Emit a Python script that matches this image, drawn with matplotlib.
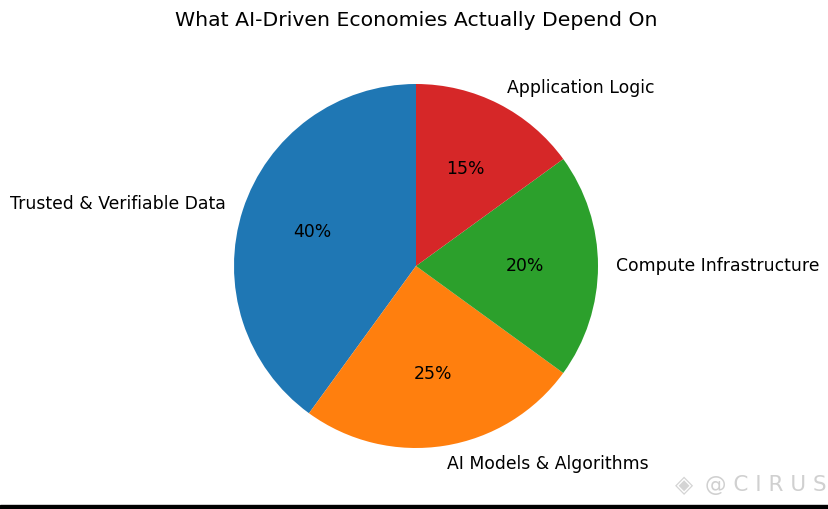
import matplotlib.pyplot as plt
from matplotlib.patches import Rectangle

labels = ['Trusted & Verifiable Data', 'AI Models & Algorithms',
          'Compute Infrastructure', 'Application Logic']
shares = [40, 25, 20, 15]
colors = ['#1f77b4', '#ff7f0e', '#2ca02c', '#d62728']

fig = plt.figure(figsize=(8.29, 5.09), dpi=100)
W, H = 829, 509
cx, cy, r = 416, 266, 182
ax = fig.add_axes([(cx - r) / W, (H - cy - r) / H, 2 * r / W, 2 * r / H])

ax.pie(shares, labels=labels, colors=colors, autopct='%1.0f%%',
       startangle=90, textprops={'fontsize': 12.4})
ax.set_xlim(-1, 1)
ax.set_ylim(-1, 1)
ax.set_aspect('equal')

fig.text(416 / W, 1 - 20 / H, 'What AI-Driven Economies Actually Depend On',
         ha='center', va='center', fontsize=14.7)

# watermark
fig.text(684 / W, 1 - 485 / H, '\u25c8', ha='center', va='center',
         fontsize=17, color='#d4d4d4')
fig.text(766 / W, 1 - 485 / H, '@ C I R U S', ha='center', va='center',
         fontsize=15.5, color='#d0d0d0')

# black strip at the bottom
fig.patches.append(Rectangle((0, 0), 1, 4 / H, transform=fig.transFigure,
                             color='black', zorder=10))

fig.savefig('out.png', dpi=100)
